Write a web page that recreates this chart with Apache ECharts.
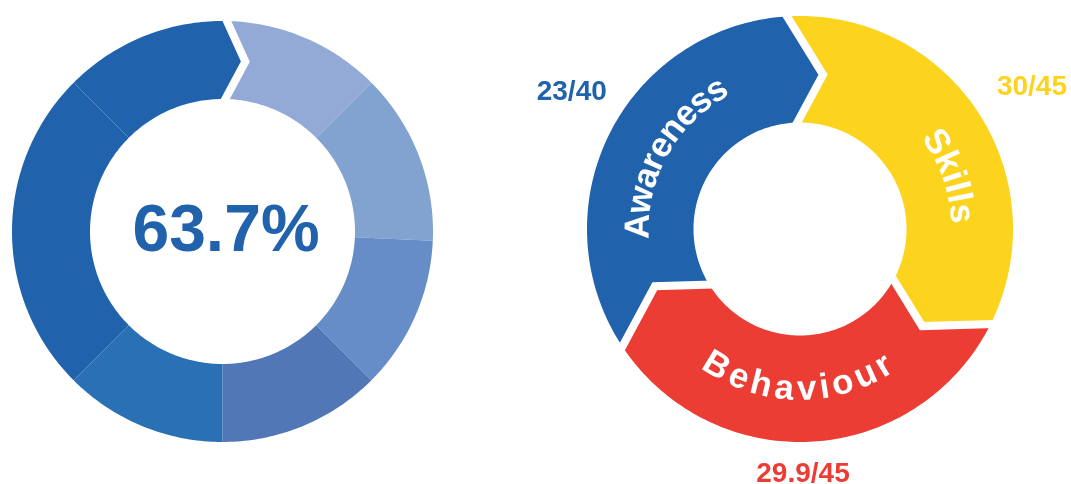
<!DOCTYPE html>
<html>
<head>
<meta charset="utf-8">
<title>Score rings</title>
<script src="https://cdn.jsdelivr.net/npm/echarts@6/dist/echarts.min.js"></script>
<style>
  html, body { margin: 0; padding: 0; background: #fff; }
  #chart { width: 1071px; height: 484px; }
</style>
</head>
<body>
<div id="chart"></div>
<script>
// overall score shown in the middle of the left ring
const overallScore = 63.7;
// left ring slices, degrees clockwise from 12 o'clock
const overallSlices = [45, 47.5, 42.5, 45, 45, 90, 45];
const overallColors = ['#94aad6', '#82a2d0', '#668dc7', '#5277b6', '#2970b4', '#2162ad', '#2162ad'];

// right ring, one arrow per pillar
const pillars = ['Awareness', 'Skills', 'Behaviour'];
const pillarScores = [23, 30, 29.9];
const pillarMax = [40, 45, 45];
const pillarColors = ['#2162ad', '#fdd41d', '#ec3d35'];

// layout / styles
const FONT = "'Liberation Sans', Arial, Helvetica, sans-serif";
const leftRing = { r0: 132.5, r1: 210.5, arrowShift: 1.2, tip: 6.45, gap: 8 };
const rightRing = { r0: 106.5, r1: 213, start: -122.5, skew: 1, tip: 11, tipR: 156, gap: 8 };
const arcLabels = [
  { offset: 2.5, span: 58, dir: 1 },
  { offset: 13.5, span: 27, dir: 1 },
  { offset: 2.5, span: 63, dir: -1 }
];
const valueLabels = [
  { offset: 3.4, r: 266 },
  { offset: 1, r: 272 },
  { offset: 1.8, r: 245 }
];

const measureCtx = document.createElement('canvas').getContext('2d');
function charWidths(text, font) {
  measureCtx.font = font;
  return Array.from(text).map(ch => measureCtx.measureText(ch).width);
}

// outer arc a0->a1, optional tip, inner arc back, optional notch
function segmentPoints(api, r0, r1, startEdge, endEdge) {
  const pts = [];
  const arc = (r, from, to) => {
    const n = Math.max(2, Math.ceil(Math.abs(to - from)) + 1);
    for (let k = 0; k < n; k++) {
      pts.push(api.coord([r, from + (to - from) * k / (n - 1)]));
    }
  };
  arc(r1, startEdge.o, endEdge.o);
  if (endEdge.t != null) pts.push(api.coord([endEdge.tr, endEdge.t]));
  arc(r0, endEdge.i, startEdge.i);
  if (startEdge.t != null) pts.push(api.coord([startEdge.tr, startEdge.t]));
  return pts;
}

function gapLine(api, r0, r1, edge, width) {
  const O = api.coord([r1, edge.o]);
  const T = api.coord([edge.tr, edge.t]);
  const I = api.coord([r0, edge.i]);
  const ext = (P) => {
    const dx = P[0] - T[0], dy = P[1] - T[1];
    const len = Math.sqrt(dx * dx + dy * dy);
    return [P[0] + dx / len * 12, P[1] + dy / len * 12];
  };
  return {
    type: 'polyline',
    z2: 10,
    shape: { points: [ext(O), T, ext(I)] },
    style: { stroke: '#fff', lineWidth: width, fill: null, lineJoin: 'miter' }
  };
}

function arcText(api, text, mid, span, radius, dir, font, color) {
  const w = charWidths(text, font);
  const chars = Array.from(text);
  const centers = [];
  let x = 0;
  w.forEach(cw => { centers.push(x + cw / 2); x += cw; });
  const c0 = centers[0];
  const natural = centers[centers.length - 1] - c0;
  const spanPx = span * Math.PI / 180 * radius;
  const extra = (spanPx - natural) / (chars.length - 1);
  return chars.map((ch, k) => {
    const s = centers[k] - c0 + extra * k - spanPx / 2;
    const ang = mid + dir * s / radius * 180 / Math.PI;
    const p = api.coord([radius, ang]);
    const rot = dir > 0 ? ang : ang - 180;
    return {
      type: 'text',
      x: p[0],
      y: p[1],
      rotation: -rot * Math.PI / 180,
      z2: 20,
      style: { text: ch, font: font, fill: color, align: 'center', verticalAlign: 'middle' }
    };
  });
}

// left ring data: [start, end]
let acc = 0;
const overallData = overallSlices.map((v, i) => {
  const d = { value: [acc, acc + v], itemStyle: { color: overallColors[i] } };
  acc += v;
  return d;
});

function leftEdge(b) {
  if (b % 360 === 0) {
    const a = b + leftRing.arrowShift;
    return { o: a, i: a, t: a + leftRing.tip, tr: (leftRing.r0 + leftRing.r1) / 2 };
  }
  return { o: b, i: b, t: null };
}

function renderOverall(params, api) {
  const i = params.dataIndex;
  const a0 = api.value(0), a1 = api.value(1);
  const { r0, r1 } = leftRing;
  const e0 = leftEdge(a0), e1 = leftEdge(a1);
  const children = [{
    type: 'polygon',
    shape: { points: segmentPoints(api, r0, r1, e0, e1) },
    style: { fill: overallColors[i] }
  }];
  if (e1.t != null) children.push(gapLine(api, r0, r1, e1, leftRing.gap));
  if (i === 0) {
    const c = api.coord([0, 0]);
    children.push({
      type: 'text',
      x: c[0] + 3.5,
      y: c[1] + 1,
      z2: 20,
      style: {
        text: overallScore.toFixed(1) + '%',
        font: 'bold 66px ' + FONT,
        fill: '#2162ad',
        align: 'center',
        verticalAlign: 'middle'
      }
    });
  }
  return { type: 'group', children };
}

// right ring data: [start, end]
const pillarData = pillars.map((name, i) => {
  const start = rightRing.start + i * 120;
  return { name, value: [start, start + 120] };
});

function rightEdge(b) {
  return { o: b - rightRing.skew, i: b + rightRing.skew, t: b + rightRing.tip, tr: rightRing.tipR };
}

function renderPillar(params, api) {
  const i = params.dataIndex;
  const a0 = api.value(0), a1 = api.value(1);
  const { r0, r1 } = rightRing;
  const e0 = rightEdge(a0), e1 = rightEdge(a1);
  const mid = (a0 + a1) / 2;
  const children = [{
    type: 'polygon',
    shape: { points: segmentPoints(api, r0, r1, e0, e1) },
    style: { fill: pillarColors[i] }
  }, gapLine(api, r0, r1, e1, rightRing.gap)];

  const lab = arcLabels[i];
  children.push(...arcText(api, pillars[i], mid + lab.offset, lab.span, 161, lab.dir,
    'bold 35px ' + FONT, '#fff'));

  const vl = valueLabels[i];
  const p = api.coord([vl.r, mid + vl.offset]);
  children.push({
    type: 'text',
    x: p[0],
    y: p[1],
    z2: 20,
    style: {
      text: pillarScores[i] + '/' + pillarMax[i],
      font: 'bold 28px ' + FONT,
      fill: pillarColors[i],
      align: 'center',
      verticalAlign: 'middle'
    }
  });
  return { type: 'group', children };
}

const chart = echarts.init(document.getElementById('chart'));
chart.setOption({
  animation: false,
  backgroundColor: '#fff',
  polar: [
    { center: [222.5, 231.5], radius: [0, leftRing.r1] },
    { center: [800, 229], radius: [0, rightRing.r1] }
  ],
  angleAxis: [
    { polarIndex: 0, type: 'value', min: 0, max: 360, startAngle: 90, clockwise: true, show: false },
    { polarIndex: 1, type: 'value', min: 0, max: 360, startAngle: 90, clockwise: true, show: false }
  ],
  radiusAxis: [
    { polarIndex: 0, type: 'value', min: 0, max: leftRing.r1, show: false },
    { polarIndex: 1, type: 'value', min: 0, max: rightRing.r1, show: false }
  ],
  series: [
    {
      type: 'custom',
      name: 'Overall',
      coordinateSystem: 'polar',
      polarIndex: 0,
      renderItem: renderOverall,
      data: overallData
    },
    {
      type: 'custom',
      name: 'Pillars',
      coordinateSystem: 'polar',
      polarIndex: 1,
      renderItem: renderPillar,
      data: pillarData
    }
  ]
});
</script>
</body>
</html>
